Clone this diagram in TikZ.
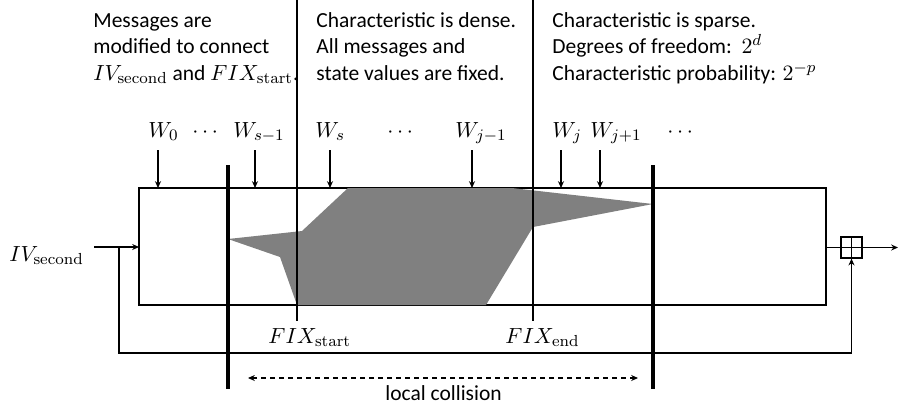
\documentclass[tikz,border=0pt]{standalone}
\usepackage[no-math]{fontspec}
\setmainfont{Carlito}
\usetikzlibrary{arrows.meta}
\begin{document}
\begin{tikzpicture}[x=0.5pt,y=-0.5pt,
  thin line/.style={line width=0.6pt},
  arr/.style={thin line,-{Stealth[length=3.4pt,width=3pt]}},
  bar/.style={line width=2pt},
  txt/.style={anchor=base west,inner sep=0pt,font=\fontsize{10.75}{13.3}\selectfont},
  lab/.style={anchor=base west,inner sep=0pt,font=\fontsize{10.75}{13.3}\selectfont}]
\useasboundingbox (0,0) rectangle (899,409);
% main rectangle
\coordinate (rtl) at (139,188);
\coordinate (rbr) at (826,305);
\draw[thin line] (rtl) rectangle (rbr);
% gray characteristic
\fill[black!50] (228,239) -- (302,231) -- (348,188) -- (512,188) -- (653,204)
  -- (533,227) -- (486,305) -- (297,305) -- (280,257) -- cycle;
% separators
\coordinate (s1t) at (297,0); \coordinate (s1b) at (297,321);
\coordinate (s2t) at (533,0); \coordinate (s2b) at (533,321);
\draw[thin line] (s1t) -- (s1b);
\draw[thin line] (s2t) -- (s2b);
% thick bars
\coordinate (b1t) at (228,165); \coordinate (b1b) at (228,389);
\coordinate (b2t) at (653,165); \coordinate (b2b) at (653,389);
\draw[bar] (b1t) -- (b1b);
\draw[bar] (b2t) -- (b2b);
% top texts
\node[txt] (m1) at (93,27) {Messages are};
\node[txt] (m2) at (93,53.5) {modified to connect};
\node[txt] (m3) at (93,80) {$IV_{\mathrm{second}}$ and $FIX_{\mathrm{start}}$.};
\node[txt] (d1) at (316,27) {Characteristic is dense.};
\node[txt] (d2) at (316,53.5) {All messages and};
\node[txt] (d3) at (316,80) {state values are fixed.};
\node[txt] (p1) at (552,27) {Characteristic is sparse.};
\node[txt] (p2) at (552,53.5) {Degrees of freedom:\ \ $2^{d}$};
\node[txt] (p3) at (552,80) {Characteristic probability: $2^{-p}$};
% message words
\node[lab] (w0) at (148,137) {$W_{0}$};
\node[lab] (d0) at (192,137) {$\cdots$};
\node[lab] (ws1) at (233,137) {$W_{s-1}$};
\node[lab] (ws) at (315,137) {$W_{s}$};
\node[lab] (dm) at (387,137) {$\cdots$};
\node[lab] (wj1) at (455,137) {$W_{j-1}$};
\node[lab] (wj) at (552,137) {$W_{j}$};
\node[lab] (wjp) at (590,137) {$W_{j+1}$};
\node[lab] (dr) at (667,137) {$\cdots$};
\foreach \n/\x in {a/158,b/255,c/330,d/472,e/561,f/600}{
  \coordinate (\n s) at (\x,150);
  \coordinate (\n e) at (\x,188);
  \draw[arr] (\n s) -- (\n e);
}
% input and feed-forward
\node[lab] (iv) at (9,261) {$IV_{\mathrm{second}}$};
\coordinate (ivs) at (94,247);
\coordinate (ivin) at (139,247);
\coordinate (fork) at (119,247);
\draw[arr] (ivs) -- (ivin);
\node[draw,thin line,minimum size=10.5pt,inner sep=0pt] (plus) at (851.5,247.5) {};
\draw[thin line] (plus.north) -- (plus.south) (plus.west) -- (plus.east);
\coordinate (rout) at (826,247.5);
\draw[thin line] (rout) -- (plus.west);
\draw[arr] (fork) |- (851.5,353) -- (plus.south);
\coordinate (out) at (898,247.5);
\draw[arr] (plus.east) -- (out);
% FIX labels
\node[lab] (fs) at (268,343) {$FIX_{\mathrm{start}}$};
\node[lab] (fe) at (505,343) {$FIX_{\mathrm{end}}$};
% local collision
\coordinate (lcl) at (248,378);
\coordinate (lcr) at (638,378);
\draw[thin line,dash pattern=on 2.5pt off 2pt,{Stealth[length=3.4pt,width=3pt]}-{Stealth[length=3.4pt,width=3pt]}] (lcl) -- (lcr);
\node[lab] (lc) at (385,400) {local collision};
\end{tikzpicture}
\end{document}
